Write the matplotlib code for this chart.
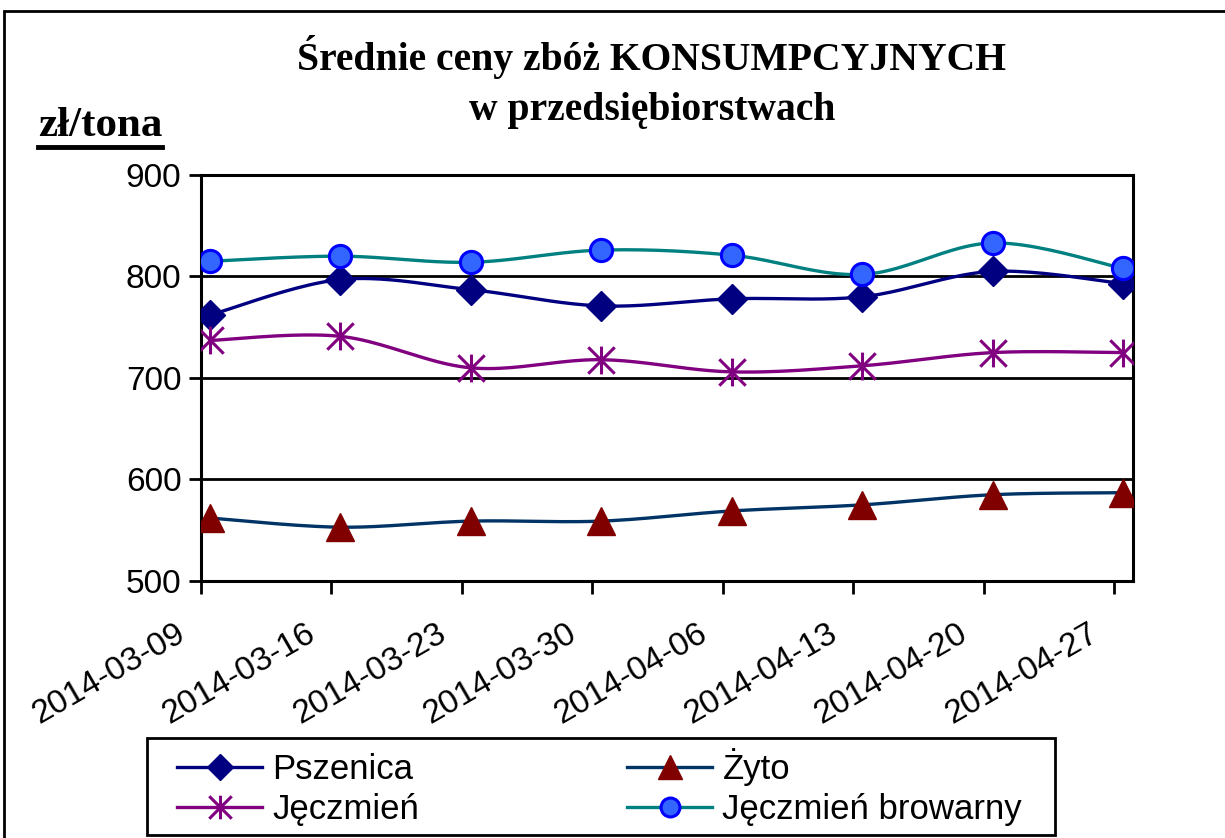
import numpy as np
import matplotlib.pyplot as plt
from matplotlib.path import Path
from matplotlib.lines import Line2D
from matplotlib.patches import Rectangle
from matplotlib.transforms import ScaledTranslation

dates = ['2014-03-09', '2014-03-16', '2014-03-23', '2014-03-30',
         '2014-04-06', '2014-04-13', '2014-04-20', '2014-04-27']
pszenica = [762, 797, 787, 771, 778, 780, 805, 793]
zyto = [562, 553, 559, 559, 569, 575, 585, 587]
jeczmien = [737, 741, 710, 718, 706, 712, 725, 725]
browarny = [815, 820, 814, 826, 821, 802, 833, 808]
labels = ['Pszenica', 'Żyto', 'Jęczmień', 'Jęczmień browarny']

# markers sit a bit right of the ticks in the original
shift = 0.07


def smooth(x, y, n=24):
    # catmull-rom spline, similar to the excel "smoothed line"
    x = np.asarray(x, float)
    y = np.asarray(y, float)
    px = np.concatenate([[x[0]], x, [x[-1]]])
    py = np.concatenate([[y[0]], y, [y[-1]]])
    xs, ys = [], []
    t = np.linspace(0, 1, n)
    for i in range(1, len(px) - 2):
        for p, out in ((px, xs), (py, ys)):
            p0, p1, p2, p3 = p[i - 1], p[i], p[i + 1], p[i + 2]
            out.extend(0.5 * (2 * p1 + (-p0 + p2) * t
                              + (2 * p0 - 5 * p1 + 4 * p2 - p3) * t ** 2
                              + (-p0 + 3 * p1 - 3 * p2 + p3) * t ** 3))
    return xs, ys


star = Path([(0, -1), (0, 1), (-0.95, -0.95), (0.95, 0.95), (-0.95, 0.95), (0.95, -0.95)],
            [Path.MOVETO, Path.LINETO, Path.MOVETO, Path.LINETO, Path.MOVETO, Path.LINETO])

styles = [
    dict(color='#000080', marker='D', ms=15, mfc='#000080', mec='#000080', mew=1),
    dict(color='#003366', marker='^', ms=20, mfc='#800000', mec='#800000', mew=1),
    dict(color='#800080', marker=star, ms=20, mfc='none', mec='#800080', mew=2.2),
    dict(color='#008080', marker='o', ms=16, mfc='#3366FF', mec='#0000FF', mew=2.2),
]

fig = plt.figure(figsize=(12.25, 8.38), dpi=100)
ax = fig.add_axes([0.164, 0.3067, 0.761, 0.4845])

x = np.arange(len(dates))
handles = []
for vals, st in zip([pszenica, zyto, jeczmien, browarny], styles):
    sx, sy = smooth(x + shift, vals)
    ax.plot(sx, sy, color=st['color'], lw=2.4, zorder=3)
    ax.plot(x + shift, vals, ls='none', marker=st['marker'], ms=st['ms'],
            mfc=st['mfc'], mec=st['mec'], mew=st['mew'], zorder=4)
    handles.append(Line2D([], [], color=st['color'], lw=2.4, marker=st['marker'],
                          ms=st['ms'] * 0.85, mfc=st['mfc'], mec=st['mec'], mew=st['mew']))

ax.set_ylim(500, 900)
ax.set_xlim(0, 7.147)
ax.set_yticks([500, 600, 700, 800, 900])
ax.set_xticks(x)
ax.set_xticklabels(dates, rotation=30, ha='right', rotation_mode='anchor')
ax.tick_params(axis='both', labelsize=24, width=2, length=9, color='black')
ax.tick_params(axis='x', pad=8)
ax.tick_params(axis='y', pad=5)
offset = ScaledTranslation(-0.26, -0.13, fig.dpi_scale_trans)
for lab in ax.get_xticklabels():
    lab.set_transform(lab.get_transform() + offset)
for lab in ax.get_xticklabels() + ax.get_yticklabels():
    lab.set_family('Liberation Sans')
ax.yaxis.grid(True, color='black', lw=2)
ax.set_axisbelow(True)
for sp in ax.spines.values():
    sp.set_linewidth(2.2)
    sp.set_color('black')

fig.text(0.532, 0.932, 'Średnie ceny zbóż KONSUMPCYJNYCH', ha='center', va='center',
         family='Liberation Serif', weight='bold', fontsize=28.5)
fig.text(0.532, 0.868, 'w przedsiębiorstwach', ha='center', va='center',
         family='Liberation Serif', weight='bold', fontsize=28.5)
unit = fig.text(0.031, 0.838, 'zł/tona', ha='left', va='baseline',
                family='Liberation Serif', weight='bold', fontsize=31)

# row-wise order like the original legend
order = [0, 2, 1, 3]
leg = fig.legend([handles[i] for i in order], [labels[i] for i in order], ncol=2,
                 loc='upper left', bbox_to_anchor=(0.1445, 0.107),
                 prop={'family': 'Liberation Sans', 'size': 25},
                 handlelength=2.45, handletextpad=0.29, labelspacing=0.2,
                 columnspacing=6.0, frameon=False, borderaxespad=0, borderpad=0)
# legend box drawn separately (wider left padding than matplotlib allows)
fig.patches.append(Rectangle((0.12, 0.0036), 0.741, 0.1155, transform=fig.transFigure,
                             fill=False, lw=2, ec='black'))

# outer chart frame (only top and left edges visible in the crop)
fig.patches.append(Rectangle((0.003, -0.05), 1.1, 1.037, transform=fig.transFigure,
                             fill=False, lw=2, ec='black'))

# underline for the unit label
fig.canvas.draw()
bb = unit.get_window_extent().transformed(fig.transFigure.inverted())
fig.lines.append(Line2D([bb.x0, bb.x1], [0.824, 0.824],
                        transform=fig.transFigure, color='black', lw=3.5))

fig.savefig('out.png', dpi=100)
